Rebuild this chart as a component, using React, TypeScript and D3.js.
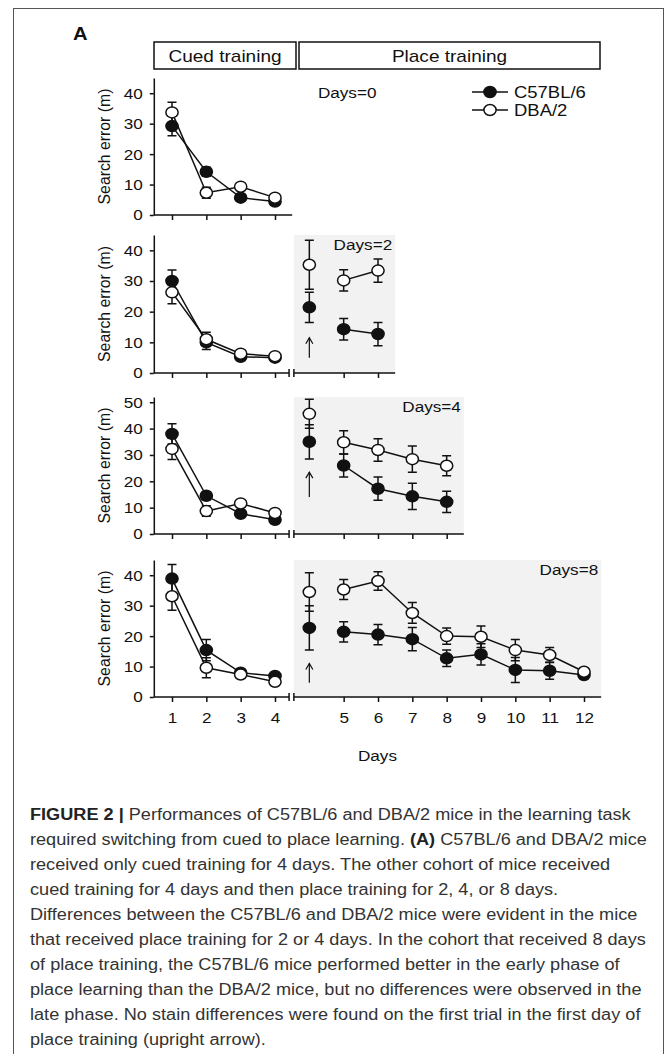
import { useEffect, useRef } from 'react';
import * as d3 from 'd3';

// x slots: cued days 1-4 -> slots 1-4, first place trial -> slot 5, place days 5-12 -> slots 6-13
const cuedDays = [1, 2, 3, 4];
const placeDays = [5, 6, 7, 8, 9, 10, 11, 12];
const placeDaysPerPanel = [0, 2, 4, 8];
const yMaxPerPanel = [45, 45, 52, 45];
const yTicksPerPanel = [
  [0, 10, 20, 30, 40],
  [0, 10, 20, 30, 40],
  [0, 10, 20, 30, 40, 50],
  [0, 10, 20, 30, 40],
];

const c57Cued = [
  [29.2, 14.2, 5.7, 4.4],
  [30.0, 10.0, 5.3, 5.0],
  [38.0, 14.5, 7.7, 5.4],
  [38.9, 15.4, 8.0, 6.9],
];
const c57CuedErr = [
  [3.2, 1.5, 1.0, 1.0],
  [3.6, 2.3, 1.0, 0.8],
  [3.8, 1.5, 1.0, 1.0],
  [4.6, 3.5, 1.0, 1.0],
];
const dbaCued = [
  [33.7, 7.3, 9.3, 5.7],
  [26.3, 11.0, 6.3, 5.5],
  [32.3, 8.7, 11.6, 8.0],
  [33.1, 9.6, 7.4, 5.0],
];
const dbaCuedErr = [
  [3.3, 1.8, 1.0, 0.8],
  [3.7, 2.3, 1.0, 0.8],
  [4.0, 2.0, 1.0, 1.0],
  [4.6, 3.3, 1.0, 1.0],
];

const c57First = [NaN, 21.4, 35.0, 22.7];
const c57FirstErr = [0, 4.9, 6.5, 7.3];
const dbaFirst = [NaN, 35.3, 45.6, 34.5];
const dbaFirstErr = [0, 8.0, 5.5, 6.3];

const c57Place = [
  [],
  [14.3, 12.7],
  [26.0, 17.2, 14.3, 12.2],
  [21.4, 20.5, 19.0, 12.7, 14.0, 8.9, 8.6, 7.2],
];
const c57PlaceErr = [
  [],
  [3.5, 3.8],
  [4.4, 4.4, 5.0, 4.0],
  [3.3, 3.3, 3.8, 2.7, 3.5, 4.1, 2.8, 1.0],
];
const dbaPlace = [
  [],
  [30.2, 33.4],
  [34.8, 31.9, 28.4, 25.9],
  [35.3, 38.1, 27.6, 20.0, 19.8, 15.4, 13.8, 8.3],
];
const dbaPlaceErr = [
  [],
  [3.5, 3.8],
  [4.4, 4.3, 5.0, 3.8],
  [3.3, 3.0, 3.4, 2.7, 3.5, 3.5, 2.5, 1.0],
];

// upright arrow under the first place trial (y data units)
const arrowFrom = [NaN, 5.0, 14.0, 4.7];
const arrowTo = [NaN, 11.5, 23.5, 11.0];

const captionLines = [
  '**FIGURE 2 |** Performances of C57BL/6 and DBA/2 mice in the learning task',
  'required switching from cued to place learning. **(A)** C57BL/6 and DBA/2 mice',
  'received only cued training for 4 days. The other cohort of mice received',
  'cued training for 4 days and then place training for 2, 4, or 8 days.',
  'Differences between the C57BL/6 and DBA/2 mice were evident in the mice',
  'that received place training for 2 or 4 days. In the cohort that received 8 days',
  'of place training, the C57BL/6 mice performed better in the early phase of',
  'place learning than the DBA/2 mice, but no differences were observed in the',
  'late phase. No stain differences were found on the first trial in the first day of',
  'place training (upright arrow).',
];

const panelTop = [78, 235, 397, 560];
const panelBottom = [215, 373, 534, 697];

// the source figure is a little stretched sideways, text included
const SX = 1.12;

export default function App() {
  const svgRef = useRef<SVGSVGElement>(null);

  useEffect(() => {
    document.body.style.margin = '0';
    if (!svgRef.current) return;
    const svg = d3.select(svgRef.current);
    svg.selectAll('*').remove();

    const font = '"Liberation Sans", Arial, sans-serif';
    const ink = '#111';
    const fs = 15.3;

    const txt = (parent: any, str: string, x: number, y: number, size: number, anchor = 'start') =>
      parent.append('text').text(str)
        .attr('transform', `translate(${x},${y}) scale(${SX},1)`)
        .attr('text-anchor', anchor)
        .attr('font-family', font).attr('font-size', size).attr('fill', ink);

    const stretchTicks = (a: any) => a.selectAll('.tick text').each(function (this: any) {
      const t = d3.select(this);
      const tx = +(t.attr('x') || 0);
      const ty = +(t.attr('y') || 0);
      t.attr('x', 0).attr('y', 0)
        .attr('transform', `translate(${tx},${ty}) scale(${SX},1)`)
        .attr('font-family', font).attr('font-size', fs).attr('fill', ink);
    });

    const x = d3.scaleLinear().domain([1, 13]).range([172, 584]);
    const axisX = x(0.47);

    // outer frame
    svg.append('rect')
      .attr('x', 13.5).attr('y', 8.5).attr('width', 650).attr('height', 1100)
      .attr('fill', 'none').attr('stroke', '#555').attr('stroke-width', 1);

    txt(svg, 'A', 73, 40, 18).attr('font-weight', 'bold');

    // header boxes
    const boxes = [
      { label: 'Cued training', x0: 154, x1: 296 },
      { label: 'Place training', x0: 299, x1: 600 },
    ];
    boxes.forEach(b => {
      svg.append('rect')
        .attr('x', b.x0).attr('y', 42).attr('width', b.x1 - b.x0).attr('height', 27)
        .attr('fill', 'none').attr('stroke', ink).attr('stroke-width', 1.5);
      txt(svg, b.label, (b.x0 + b.x1) / 2, 62, 17, 'middle');
    });

    placeDaysPerPanel.forEach((nPlace, i) => {
      const y = d3.scaleLinear().domain([0, yMaxPerPanel[i]]).range([panelBottom[i], panelTop[i]]);
      const g = svg.append('g');
      const y0 = y(0);
      const placeSlots = placeDays.slice(0, nPlace).map(d => d + 1);
      const placeEnd = nPlace ? x(placeSlots[nPlace - 1] + 0.5) : 0;

      if (nPlace) {
        g.append('rect')
          .attr('x', x(4.55)).attr('y', panelTop[i])
          .attr('width', placeEnd - x(4.55)).attr('height', y0 - panelTop[i])
          .attr('fill', '#f2f2f2');
      }

      // y axis
      g.append('g')
        .attr('transform', `translate(${axisX},0)`)
        .call(d3.axisLeft(y).tickValues(yTicksPerPanel[i]).tickSize(4).tickPadding(7).tickSizeOuter(0))
        .call(a => a.select('.domain').attr('stroke', ink).attr('stroke-width', 1.5))
        .call(a => a.selectAll('.tick line').attr('stroke', ink).attr('stroke-width', 1.5))
        .call(stretchTicks);

      g.append('text').text('Search error (m)')
        .attr('transform', `translate(110,${(y0 + panelTop[i]) / 2}) rotate(-90)`)
        .attr('text-anchor', 'middle')
        .attr('font-family', font).attr('font-size', 15.8).attr('fill', ink);

      // x axes
      const cuedEnd = nPlace ? x(4.41) : x(4.5);
      g.append('line')
        .attr('x1', axisX).attr('x2', cuedEnd).attr('y1', y0).attr('y2', y0)
        .attr('stroke', ink).attr('stroke-width', 1.5);
      const showLabels = i === 3;
      g.append('g')
        .attr('transform', `translate(0,${y0})`)
        .call(d3.axisBottom(x).tickValues(cuedDays).tickSize(5).tickPadding(10)
          .tickFormat(d => (showLabels ? String(d) : '')))
        .call(a => a.select('.domain').remove())
        .call(a => a.selectAll('.tick line').attr('stroke', ink).attr('stroke-width', 1.5))
        .call(stretchTicks);

      if (nPlace) {
        g.append('line')
          .attr('x1', x(4.55)).attr('x2', placeEnd).attr('y1', y0).attr('y2', y0)
          .attr('stroke', ink).attr('stroke-width', 1.5);
        [x(4.41), x(4.55)].forEach(bx => {
          g.append('line')
            .attr('x1', bx).attr('x2', bx).attr('y1', y0 - 4).attr('y2', y0 + 4)
            .attr('stroke', ink).attr('stroke-width', 1.5);
        });
        g.append('g')
          .attr('transform', `translate(0,${y0})`)
          .call(d3.axisBottom(x).tickValues(placeSlots).tickSize(5).tickPadding(10)
            .tickFormat(d => (showLabels ? String(+d - 1) : '')))
          .call(a => a.select('.domain').remove())
          .call(a => a.selectAll('.tick line').attr('stroke', ink).attr('stroke-width', 1.5))
          .call(stretchTicks);
      }

      // days label
      if (nPlace) {
        txt(g, `Days=${nPlace}`, placeEnd - 3, panelTop[i] + 15, fs, 'end');
      } else {
        txt(g, 'Days=0', x(5.25), y(40) + 5, fs);
      }

      // arrow
      if (nPlace) {
        const ax = x(5);
        const tip = y(arrowTo[i]);
        g.append('line')
          .attr('x1', ax).attr('x2', ax).attr('y1', y(arrowFrom[i])).attr('y2', tip)
          .attr('stroke', ink).attr('stroke-width', 1.2);
        g.append('path')
          .attr('d', `M${ax - 3.5},${tip + 6}L${ax},${tip}L${ax + 3.5},${tip + 6}`)
          .attr('fill', 'none').attr('stroke', ink).attr('stroke-width', 1.2);
      }

      type Pt = { s: number; v: number; e: number };
      const series = [
        {
          fill: '#111',
          cued: cuedDays.map((d, k) => ({ s: d, v: c57Cued[i][k], e: c57CuedErr[i][k] })),
          first: nPlace ? [{ s: 5, v: c57First[i], e: c57FirstErr[i] }] : [],
          place: placeSlots.map((s, k) => ({ s, v: c57Place[i][k], e: c57PlaceErr[i][k] })),
        },
        {
          fill: '#fff',
          cued: cuedDays.map((d, k) => ({ s: d, v: dbaCued[i][k], e: dbaCuedErr[i][k] })),
          first: nPlace ? [{ s: 5, v: dbaFirst[i], e: dbaFirstErr[i] }] : [],
          place: placeSlots.map((s, k) => ({ s, v: dbaPlace[i][k], e: dbaPlaceErr[i][k] })),
        },
      ];

      const line = d3.line<Pt>().x(p => x(p.s)).y(p => y(p.v));
      series.forEach(sr => {
        [sr.cued, sr.place].forEach(pts => {
          if (pts.length < 2) return;
          g.append('path').attr('d', line(pts)!)
            .attr('fill', 'none').attr('stroke', ink).attr('stroke-width', 1.5);
        });
      });

      const cap = 4.5;
      series.forEach(sr => {
        [...sr.cued, ...sr.first, ...sr.place].forEach(p => {
          const cx = x(p.s);
          const yt = y(p.v + p.e), yb = y(p.v - p.e);
          g.append('path')
            .attr('d', `M${cx},${yt}V${yb}M${cx - cap},${yt}H${cx + cap}M${cx - cap},${yb}H${cx + cap}`)
            .attr('fill', 'none').attr('stroke', ink).attr('stroke-width', 1.5);
        });
      });

      series.forEach(sr => {
        [...sr.cued, ...sr.first, ...sr.place].forEach(p => {
          g.append('ellipse')
            .attr('cx', x(p.s)).attr('cy', y(p.v)).attr('rx', 6.1).attr('ry', 5.5)
            .attr('fill', sr.fill).attr('stroke', ink).attr('stroke-width', 1.5);
        });
      });
    });

    // x label
    txt(svg, 'Days', (axisX + x(13.5)) / 2, 761, fs, 'middle');

    // legend
    [{ label: 'C57BL/6', fill: '#111', ly: 92 }, { label: 'DBA/2', fill: '#fff', ly: 110 }].forEach(l => {
      svg.append('line').attr('x1', 472).attr('x2', 508).attr('y1', l.ly).attr('y2', l.ly)
        .attr('stroke', ink).attr('stroke-width', 1.5);
      svg.append('ellipse').attr('cx', 490).attr('cy', l.ly).attr('rx', 6.1).attr('ry', 5.5)
        .attr('fill', l.fill).attr('stroke', ink).attr('stroke-width', 1.5);
      txt(svg, l.label, 514, l.ly + 6, 16.5);
    });

    // caption
    captionLines.forEach((ln, k) => {
      const t = svg.append('text')
        .attr('transform', `translate(30,${820 + k * 25}) scale(${SX},1)`)
        .attr('font-family', font).attr('font-size', 16.2).attr('fill', '#333');
      ln.split('**').forEach((seg, j) => {
        if (!seg) return;
        t.append('tspan').text(seg)
          .attr('font-weight', j % 2 ? 'bold' : 'normal')
          .attr('fill', j % 2 ? '#222' : '#333');
      });
    });
  }, []);

  return <svg ref={svgRef} width={666} height={1054} style={{ display: 'block' }} />;
}
